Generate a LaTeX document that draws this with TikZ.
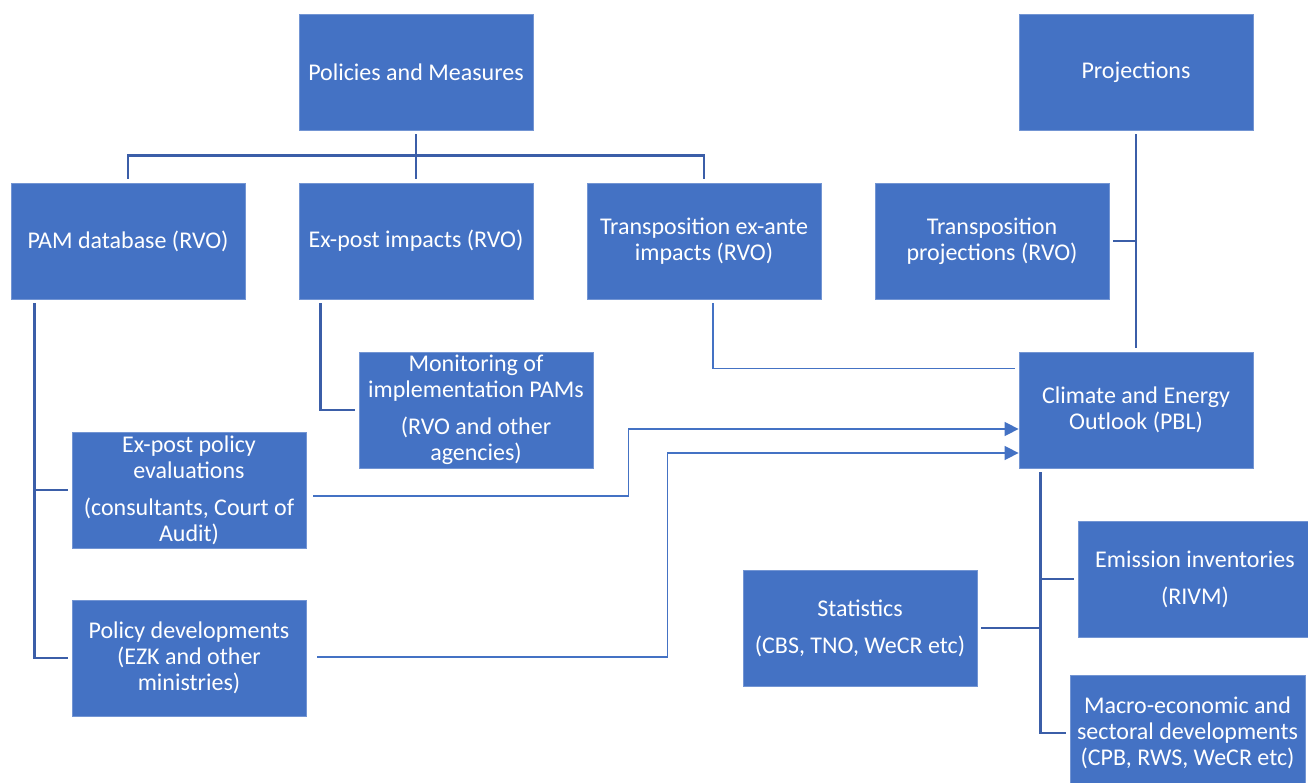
\documentclass[tikz,border=0pt]{standalone}
\usepackage{fontspec}
\setmainfont{Carlito}
\usetikzlibrary{arrows.meta,calc}
\definecolor{boxblue}{HTML}{4472C4}
\definecolor{linkblue}{HTML}{3B5EA8}

\begin{document}
\begin{tikzpicture}[x=1pt,y=-1pt,
  orgbox/.style={rectangle,fill=boxblue,draw=boxblue!75!white,line width=0.8pt,
    minimum width=234pt,minimum height=116pt,inner sep=2pt,text=white,
    align=center,font=\fontsize{24}{26}\selectfont},
  trunk/.style={draw=linkblue,line width=2.5pt},
  feed/.style={draw=boxblue,line width=1.5pt},
  feedarrow/.style={feed,-{Triangle[length=14pt,width=14pt]}}]
\useasboundingbox (0,0) rectangle (1308,783);
\clip (0,0) rectangle (1308,783);

% Top row
\node[orgbox] (pm) at (416,72) {Policies and Measures};
\node[orgbox] (proj) at (1136,72) {Projections};

% Second row
\node[orgbox] (pamdb) at (128,241) {PAM database (RVO)};
\node[orgbox] (expost) at (416,241) {Ex-post impacts (RVO)};
\node[orgbox] (exante) at (704,241) {Transposition ex-ante\\impacts (RVO)};
\node[orgbox] (tproj) at (992,241) {Transposition\\projections (RVO)};

% Middle and lower boxes
\node[orgbox] (monit) at (476,410) {Monitoring of\\implementation PAMs\\[11pt](RVO and other\\agencies)};
\node[orgbox] (ceo) at (1136,410) {Climate and Energy\\Outlook (PBL)};
\node[orgbox] (eval) at (189,490) {Ex-post policy\\evaluations\\[11pt](consultants, Court of\\Audit)};
\node[orgbox] (poldev) at (189,658) {Policy developments\\(EZK and other\\ministries)};
\node[orgbox] (stats) at (860,628) {Statistics\\[11pt](CBS, TNO, WeCR etc)};
\node[orgbox] (emis) at (1195,579) {Emission inventories\\[11pt](RIVM)};
\node[orgbox,minimum width=235pt] (macro) at (1187.5,733) {Macro-economic and\\sectoral developments\\(CPB, RWS, WeCR etc)};

% Tree under Policies and Measures
\coordinate (pmbar) at ($(pm.south)+(0,-25pt)$);
\draw[trunk,shorten <=4pt] (pm.south) -- (pmbar);
\draw[trunk,shorten >=4pt] (pmbar) -- (expost.north);
\draw[trunk,shorten >=4pt] (pmbar) -| (pamdb.north);
\draw[trunk,shorten >=4pt] (pmbar) -| (exante.north);

% Left branches
\coordinate (pamstem) at ([xshift=24pt]pamdb.south west);
\draw[trunk,shorten <=4pt,shorten >=4pt] (pamstem) |- (poldev.west);
\draw[trunk,shorten >=4pt] (eval.west -| pamstem) -- (eval.west);
\draw[trunk,shorten <=4pt,shorten >=4pt] ([xshift=22pt]expost.south west) |- (monit.west);

% Feeds into the Outlook
\draw[feed,shorten <=4pt,shorten >=4pt] ([xshift=9pt]exante.south) |- ([yshift=-17pt]ceo.north west);
\draw[feedarrow] ([xshift=7pt,yshift=-6pt]eval.east) -- ++(315pt,0) |- ([yshift=-19pt]ceo.west);
\draw[feedarrow] ([xshift=11pt,yshift=1pt]poldev.east) -- ++(350pt,0) |- ([yshift=-43pt]ceo.west);

% Projections side
\draw[trunk,shorten <=4pt,shorten >=4pt] (proj.south) -- (ceo.north);
\draw[trunk,shorten <=4pt] (tproj.east) -- (tproj.east -| proj.south);

% Tree under the Outlook
\coordinate (ceostem) at ([xshift=22pt]ceo.south west);
\draw[trunk,shorten <=4pt,shorten >=4pt] (ceostem) |- (macro.west);
\draw[trunk,shorten <=4pt] (stats.east) -- (stats.east -| ceostem);
\draw[trunk,shorten >=4pt] (emis.west -| ceostem) -- (emis.west);
\end{tikzpicture}
\end{document}
